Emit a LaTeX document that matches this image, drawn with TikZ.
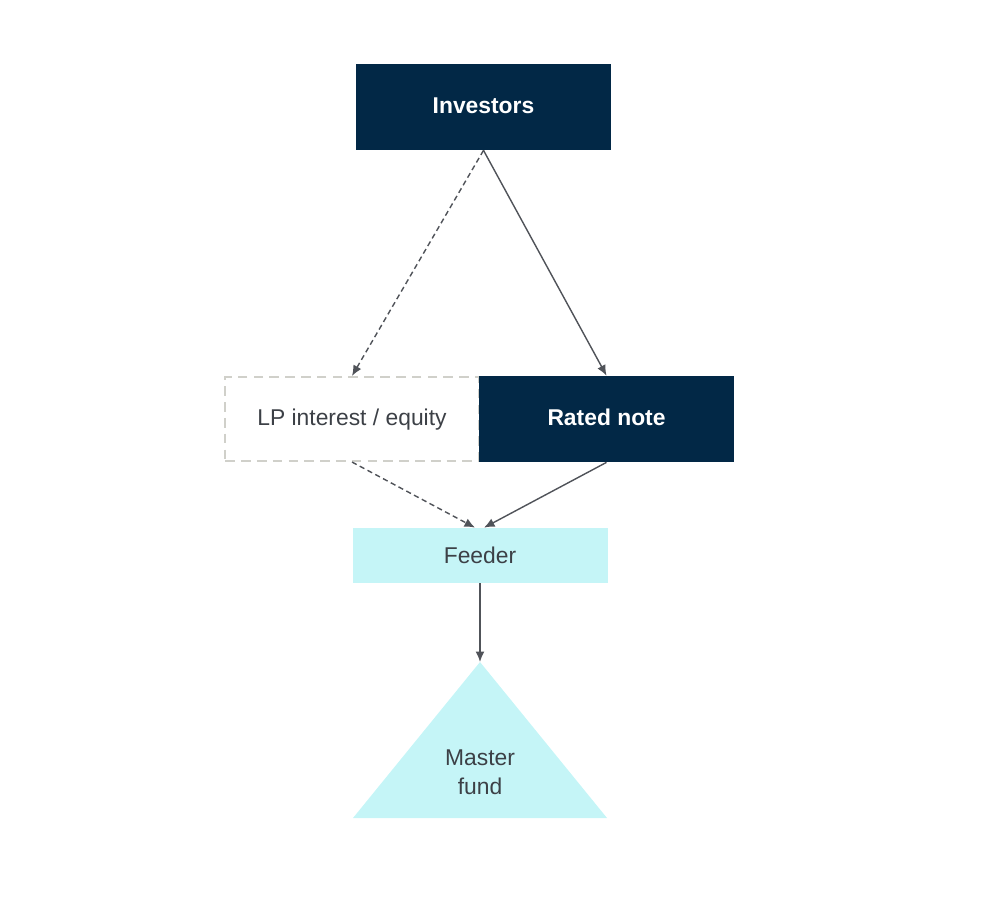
\documentclass[tikz,border=0pt]{standalone}
\usepackage{fontspec}
\setmainfont{Liberation Sans}
\usetikzlibrary{positioning, arrows.meta}
\definecolor{navy}{RGB}{2,40,70}
\definecolor{aqua}{RGB}{197,245,247}
\definecolor{ink}{RGB}{60,64,70}
\definecolor{edgegrey}{RGB}{208,208,202}

\begin{document}
\begin{tikzpicture}[x=0.2mm, y=-0.2mm,
  every node/.style={font=\fontsize{13}{16.5}\selectfont},
  darkbox/.style={fill=navy, text=white, font=\fontsize{13}{16.5}\selectfont\bfseries,
    minimum width=51mm, minimum height=17.2mm, inner sep=0pt,
    text height=0.72em, text depth=0pt},
  ghostbox/.style={draw=edgegrey, line width=0.9pt, dash pattern=on 5.5pt off 3.5pt,
    text=ink, minimum width=50.7mm, minimum height=16.9mm, inner sep=0pt,
    text height=0.72em, text depth=0pt},
  feedbox/.style={fill=aqua, text=ink, minimum width=51mm, minimum height=11mm, inner sep=0pt},
  link/.style={draw=ink!90, line width=0.8pt, -{Latex[length=2.1mm,width=1.8mm]}},
  maybe/.style={link, dash pattern=on 3pt off 2pt}]
\useasboundingbox (0,0) rectangle (1000,899);

\node[darkbox] (investors) at (483.5,107) {Investors};
\node[ghostbox] (lp) at (352,419) {LP interest / equity};
\node[darkbox, right=-0.5pt of lp] (rated) {Rated note};
\node[feedbox] (feeder) at (480,555.5) {Feeder};

% master fund triangle
\coordinate (apex) at (480,662);
\fill[aqua] (apex) -- (607,818) -- (353,818) -- cycle;
\node[text=ink, align=center] (master) at (480,772) {Master\\fund};

\draw[maybe] (investors.south) -- (lp.north);
\draw[link] (investors.south) -- (rated.north);
\draw[maybe] (lp.south) -- ([xshift=-1mm]feeder.north);
\draw[link] (rated.south) -- ([xshift=0.8mm]feeder.north);
\draw[link] (feeder.south) -- (apex);
\end{tikzpicture}
\end{document}
